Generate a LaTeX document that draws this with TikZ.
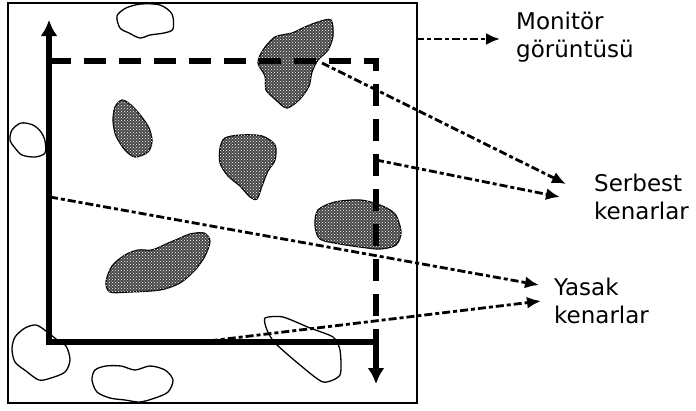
\documentclass[tikz,border=0pt]{standalone}
\usepackage{fontspec}
\newfontfamily\lblfont{DejaVu Sans}
\usepackage{tikz}
\usetikzlibrary{arrows.meta,patterns}

\begin{document}
\begin{tikzpicture}[
  x=1pt, y=-1pt,
  screen/.style={draw, line width=1.5pt, inner sep=0pt, anchor=north west},
  wall/.style={line width=6pt},
  rock/.style={draw, line width=1.2pt, fill=black!72, postaction={pattern=crosshatch dots, pattern color=white}},
  cloud/.style={draw, line width=1.3pt},
  hint/.style={line width=2.8pt, dash pattern=on 8pt off 3pt on 4pt off 3pt, -{Latex[length=14pt,width=12pt]}},
  lbl/.style={font=\lblfont\fontsize{23}{27.5}\selectfont, align=left, anchor=north west, inner sep=0pt}
]
  \useasboundingbox (0,0) rectangle (696,410);

  % monitor frame
  \node[screen, minimum width=409pt, minimum height=400pt] (screen) at (7,2) {};

  % obstacles (shaded)
  \draw[rock] plot[smooth cycle] coordinates {(263,50) (275,37) (292,33) (305,27) (318,22) (331,20) (333,36) (328,50) (318,60) (312,72) (309,86) (300,99) (287,108) (276,100) (266,90) (265,76) (258,63)};
  \draw[rock] plot[smooth cycle] coordinates {(122,100) (131,105) (141,116) (149,128) (152,141) (148,152) (135,157) (125,150) (116,136) (113,121) (115,107)};
  \draw[rock] plot[smooth cycle] coordinates {(225,138) (241,135) (262,136) (275,145) (275,160) (268,171) (262,186) (257,199) (250,197) (240,186) (228,176) (220,163) (220,148)};
  \draw[rock] plot[smooth cycle] coordinates {(318,210) (335,202) (360,200) (380,205) (395,214) (401,232) (396,245) (380,249) (360,247) (340,244) (320,239) (315,225)};
  \draw[rock] plot[smooth cycle] coordinates {(106,282) (112,266) (125,255) (138,250) (152,250) (166,244) (178,239) (190,234) (204,233) (210,241) (205,256) (195,270) (180,283) (160,290) (130,292) (110,292)};

  % free particles (outlined)
  \draw[cloud] plot[smooth cycle] coordinates {(117,16) (126,8) (141,4) (160,5) (172,14) (173,29) (164,33) (150,35) (140,38) (129,33) (120,28)};
  \draw[cloud] plot[smooth cycle] coordinates {(12,130) (21,123) (33,125) (41,132) (45,141) (45,153) (35,157) (22,155) (15,148) (10,140)};
  \draw[cloud] plot[smooth cycle] coordinates {(15,337) (25,328) (36,325) (46,331) (56,339) (66,346) (70,360) (65,372) (51,378) (39,380) (26,371) (15,362) (12,349)};
  \draw[cloud] plot[smooth cycle] coordinates {(95,370) (106,366) (121,366) (135,370) (150,366) (165,370) (173,380) (168,392) (155,398) (140,402) (125,400) (110,398) (97,392) (92,380)};
  \draw[cloud] plot[smooth cycle, tension=0.4] coordinates {(265,318) (283,317) (310,328) (333,337) (340,350) (340,375) (323,382) (300,365) (275,343) (267,330)};

  % forbidden edges (solid) and free edges (dashed)
  \coordinate (bl) at (49,342);
  \coordinate (br) at (376,342);
  \coordinate (tl) at (49,61);
  \coordinate (tr) at (376,61);
  \coordinate (upTip) at (49,20);
  \coordinate (downTip) at (376,384);
  \draw[wall, {Latex[length=16pt,width=17pt]}-{Latex[length=16pt,width=17pt]}] (downTip) -- (br) -- (bl) -- (upTip);
  \draw[wall, dash pattern=on 22pt off 13pt] (tl) -- (tr) -- (br);

  % labels
  \node[lbl] (monitor) at (516,12) {Monitör\\görüntüsü};
  \node[lbl] (serbest) at (594,174) {Serbest\\kenarlar};
  \node[lbl] (yasak) at (554,278) {Yasak\\kenarlar};

  % pointers
  \coordinate (m0) at (416,39);  \coordinate (m1) at (500,39);
  \coordinate (s0) at (322,63);  \coordinate (s1) at (566,184);
  \coordinate (s2) at (376,160); \coordinate (s3) at (560,197);
  \coordinate (y0) at (50,197);  \coordinate (y1) at (539,285);
  \coordinate (y2) at (192,343); \coordinate (y3) at (541,301);
  \draw[hint] (m0) -- (m1);
  \draw[hint] (s0) -- (s1);
  \draw[hint] (s2) -- (s3);
  \draw[hint] (y0) -- (y1);
  \draw[hint] (y2) -- (y3);
\end{tikzpicture}
\end{document}
